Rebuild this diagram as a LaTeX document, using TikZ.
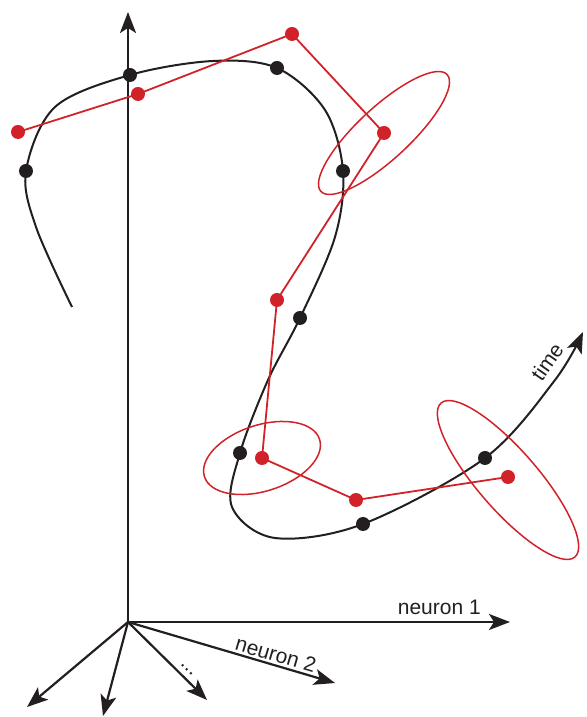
\documentclass[tikz,border=0pt]{standalone}
\usepackage{fontspec}
\setmainfont{Liberation Sans}
\usetikzlibrary{arrows.meta,shapes.geometric}
\definecolor{trajblack}{HTML}{231F20}
\definecolor{trajred}{HTML}{D12229}

\begin{document}
\begin{tikzpicture}[x=1pt, y=1pt,
    axisarrow/.style={line width=2.2pt, draw=trajblack, -{Stealth[length=21pt, width=16pt, inset=5pt]}},
    traj/.style={line width=2pt, draw=trajblack},
    model/.style={line width=1.8pt, draw=trajred},
    covell/.style={ellipse, draw=trajred, line width=1.5pt, inner sep=0pt, outer sep=0pt},
    bdot/.style={circle, fill=trajblack, inner sep=0pt, minimum size=14pt},
    rdot/.style={circle, fill=trajred, inner sep=0pt, minimum size=14pt},
    lbl/.style={font=\fontsize{21}{24}\selectfont, text=trajblack, inner sep=2pt}]
    \useasboundingbox (0,0) rectangle (586,717);

    % Axes
    \coordinate (O) at (128,95);
    \coordinate (yend) at (128,705);
    \coordinate (n1end) at (510,95);
    \coordinate (n2end) at (335,34);
    \coordinate (dend) at (207,17);
    \coordinate (dwn) at (103,1);
    \coordinate (lft) at (27,10);
    \draw[axisarrow] (O) -- (yend);
    \draw[axisarrow] (O) -- (n1end) node[lbl, above=4pt, pos=0.815] (n1lbl) {neuron 1};
    \draw[axisarrow] (O) -- (n2end) node[lbl, sloped, above, pos=0.7] (n2lbl) {neuron 2};
    \draw[axisarrow] (O) -- (dend) node[lbl, sloped, above=3pt, pos=0.68] (dlbl) {...};
    \draw[axisarrow] (O) -- (dwn);
    \draw[axisarrow] (O) -- (lft);

    % Trajectory samples
    \foreach \n/\x/\y in {1/26/546, 2/130/642, 3/277/649, 4/343/546,
                          5/300/399, 6/240/264, 7/363/193, 8/485/259} {
        \coordinate (b\n) at (\x,\y);
    }
    \foreach \n/\x/\y in {1/18/585, 2/138/623, 3/292/683, 4/384/584,
                          5/277/417, 6/262/259, 7/356/217, 8/508/240} {
        \coordinate (r\n) at (\x,\y);
    }

    % Latent trajectory through time
    \draw[traj, -{Stealth[length=21pt, width=16pt, inset=5pt]}]
        plot[smooth, tension=0.55] coordinates {(72,410) (36,490) (b1) (55,610) (b2)
            (213,656) (b3) (325,607) (b4) (335,480) (b5) (268,337) (b6) (232,210)
            (275,179) (b7) (b8) (555,337) (583,385)};
    \node[lbl, rotate=55] (tlbl) at (547,355) {time};

    % Uncertainty ellipses
    \node[covell, rotate=42.8, minimum width=172pt, minimum height=52pt] (e1) at (r4) {};
    \node[covell, rotate=18, minimum width=121pt, minimum height=66pt] (e2) at (r6) {};
    \node[covell, rotate=-49, minimum width=204pt, minimum height=60pt] (e3) at (508,237) {};

    % Model estimate
    \draw[model] (r1) -- (r2) -- (r3) -- (r4) -- (r5) -- (r6) -- (r7) -- (r8);

    \foreach \n in {1,...,8} {
        \node[bdot] (bd\n) at (b\n) {};
        \node[rdot] (rd\n) at (r\n) {};
    }
\end{tikzpicture}
\end{document}
